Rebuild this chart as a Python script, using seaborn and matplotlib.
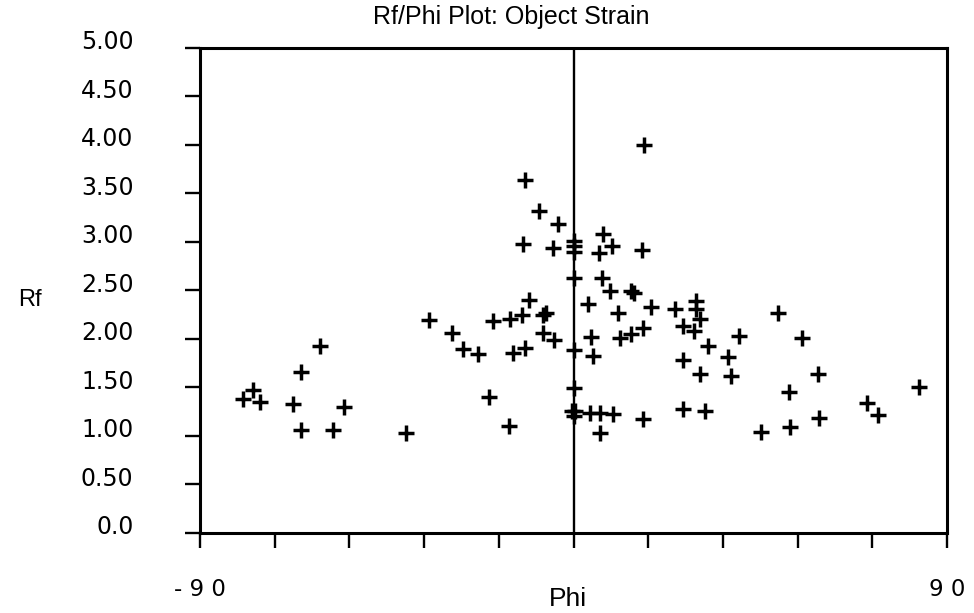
import numpy as np
import pandas as pd
import matplotlib
matplotlib.use("Agg")
import matplotlib.pyplot as plt
import matplotlib.transforms as mtransforms
import seaborn as sns

# Rf / Phi values
phi = [-79.6, -77.2, -75.6, -67.5, -65.6, -61.2, -65.6, -57.9, -55.3, -40.4,
       -34.9, -29.3, -26.7, -23.0, -20.4, -19.3, -15.6, -15.4, -14.6, -12.4,
       -11.8, -11.6, -12.2, -10.8, -8.2, -7.4, -6.6, -7.4, -5.0, -4.8, -3.8,
       0.0, 0.0, 0.0, 0.0, 0.0, 0.0, -0.4, 0.4, 0.0,
       3.6, 4.3, 4.7, 3.9, 6.3, 9.5, 6.5, 7.1, 9.2, 6.1, 6.8, 8.7, 10.7, 11.3,
       13.9, 14.5, 13.9, 16.7, 17.0, 16.5, 16.7, 18.7, 24.4, 26.4, 26.5, 26.5,
       29.0, 29.6, 29.6, 30.4, 30.4, 31.8, 32.3, 37.3, 37.9, 39.8, 45.1, 49.3,
       52.0, 52.1, 55.1, 58.9, 59.1, 70.8, 73.3, 83.3]
rf = [1.38, 1.47, 1.35, 1.33, 1.66, 1.92, 1.06, 1.06, 1.30, 1.03,
      2.19, 2.06, 1.89, 1.84, 1.40, 2.18, 1.10, 2.20, 1.85, 2.24,
      1.90, 3.64, 2.98, 2.40, 3.32, 2.24, 2.26, 2.06, 2.93, 1.99, 3.18,
      3.01, 2.96, 2.89, 2.63, 1.88, 1.49, 1.25, 1.25, 1.20,
      2.36, 2.02, 1.82, 1.23, 1.23, 1.22, 1.03, 3.08, 2.96, 2.88, 2.63, 2.49, 2.27, 2.01,
      2.49, 2.47, 2.05, 2.11, 4.00, 2.91, 1.17, 2.33, 2.31, 2.13, 1.78, 1.28,
      2.08, 2.39, 2.31, 2.20, 1.64, 1.25, 1.92, 1.81, 1.62, 2.03, 1.04, 2.26,
      1.45, 1.09, 2.01, 1.64, 1.18, 1.34, 1.21, 1.50]

y_ticks = [0.0, 0.5, 1.0, 1.5, 2.0, 2.5, 3.0, 3.5, 4.0, 4.5, 5.0]
y_labels = ["0.0", "0.50", "1.00", "1.50", "2.00", "2.50", "3.00", "3.50", "4.00", "4.50", "5.00"]
x_ticks = [-90, -72, -54, -36, -18, 0, 18, 36, 54, 72, 90]
x_labels = ["- 9 0", "", "", "", "", "", "", "", "", "", "9 0"]

df = pd.DataFrame({"Phi": phi, "Rf": rf})

sns.set_style("ticks")
plt.rcParams["font.family"] = ["Liberation Sans", "DejaVu Sans"]
plt.rcParams["text.color"] = "black"
plt.rcParams["axes.labelcolor"] = "black"
plt.rcParams["xtick.color"] = "black"
plt.rcParams["ytick.color"] = "black"

fig = plt.figure(figsize=(9.74, 6.13), dpi=100)
ax = fig.add_axes([200 / 974, 1 - 532.7 / 613, 747 / 974, 485 / 613])

sns.scatterplot(data=df, x="Phi", y="Rf", marker="+", s=120, color="black",
                linewidth=2.5, ax=ax, zorder=3)
ax.axvline(0, color="black", lw=1.7, zorder=2)

ax.set_xlim(-90, 90)
ax.set_ylim(0, 5)
ax.set_xticks(x_ticks)
ax.set_xticklabels(x_labels, fontsize=16.5, family="DejaVu Sans")
ax.set_yticks(y_ticks)
ax.set_yticklabels(y_labels, fontsize=17, family="DejaVu Sans")
ax.tick_params(axis="both", direction="out", length=10.8, width=1.7,
               color="black", labelcolor="black")
ax.tick_params(axis="y", pad=37)
ax.tick_params(axis="x", pad=22)

# y tick labels sit slightly above their ticks in the original
shift = mtransforms.ScaledTranslation(0, 8 / 100, fig.dpi_scale_trans)
for lab in ax.get_yticklabels():
    lab.set_transform(lab.get_transform() + shift)

for sp in ax.spines.values():
    sp.set_visible(True)
    sp.set_linewidth(2.2)
    sp.set_color("black")

ax.set_xlabel("Phi", fontsize=19)
ax.xaxis.set_label_coords(0.493, -0.137)
ax.xaxis.label.set_va("center")
ax.set_ylabel("Rf", fontsize=17, rotation=0, ha="center", va="center")
ax.yaxis.set_label_coords(-0.228, 0.48)

fig.text(511 / 974, 1 - 17 / 613, "Rf/Phi Plot: Object Strain", fontsize=18,
         ha="center", va="center")

fig.savefig("out.png", dpi=100, facecolor="white")
